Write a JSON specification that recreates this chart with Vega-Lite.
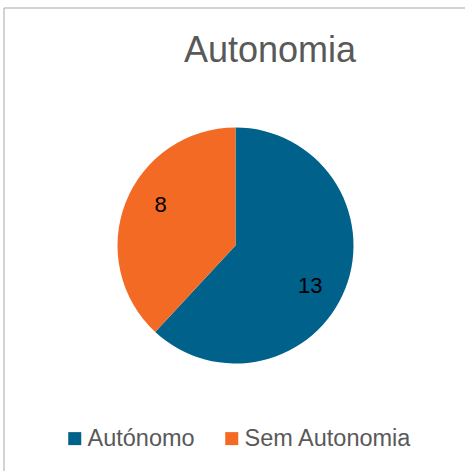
{
  "$schema": "https://vega.github.io/schema/vega-lite/v6.json",
  "autosize": {"type": "none"},
  "padding": {"left": 3.5, "top": 7.5, "right": -2.5, "bottom": -12.5},
  "width": 464,
  "height": 476,
  "background": "white",
  "view": {"stroke": "#a6a6a6", "strokeWidth": 1},
  "config": {
    "view": {"stroke": "#a6a6a6", "strokeWidth": 1},
    "font": "Liberation Sans"
  },
  "title": {
    "text": "Autonomia",
    "fontSize": 36,
    "font": "Liberation Sans",
    "fontWeight": "normal",
    "color": "#595959",
    "anchor": "middle",
    "frame": "group",
    "baseline": "alphabetic",
    "offset": -52.5,
    "dx": 34.5,
    "dy": 38
  },
  "data": {
    "values": [
      {"categoria": "Autónomo", "valor": 13},
      {"categoria": "Sem Autonomia", "valor": 8}
    ]
  },
  "encoding": {
    "theta": {"field": "valor", "type": "quantitative", "stack": true},
    "order": {"field": "categoria", "sort": "ascending"}
  },
  "layer": [
    {
      "mark": {"type": "arc", "outerRadius": 118},
      "encoding": {
        "color": {
          "field": "categoria",
          "type": "nominal",
          "scale": {"domain": ["Autónomo", "Sem Autonomia"], "range": ["#00618A", "#F26A23"]},
          "legend": {
            "title": null,
            "orient": "none",
            "direction": "horizontal",
            "legendX": 59.5,
            "legendY": 419,
            "symbolType": "square",
            "symbolSize": 169,
            "symbolStrokeWidth": 0,
            "labelFontSize": 23.5,
            "labelColor": "#595959",
            "labelFont": "Liberation Sans",
            "labelOffset": 1,
            "labelLimit": 400,
            "columnPadding": 25,
            "padding": 0
          }
        }
      }
    },
    {
      "mark": {"type": "text", "radius": 85, "fontSize": 22, "color": "black", "font": "Liberation Sans", "thetaOffset": 0.12},
      "encoding": {
        "text": {"field": "valor", "type": "quantitative"}
      }
    }
  ]
}
